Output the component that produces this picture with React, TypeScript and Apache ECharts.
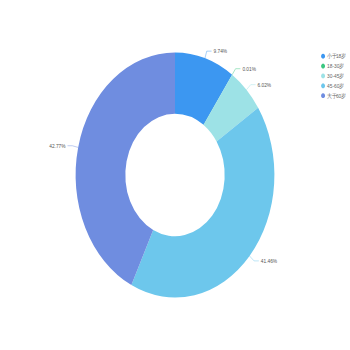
import React, { useEffect, useRef } from "react";
import * as echarts from "echarts";

const categories = ["小于18岁", "18-30岁", "30-45岁", "45-60岁", "大于60岁"];
const values = [9.74, 0.01, 6.02, 41.46, 42.77];
const colors = ["#3c97f1", "#3bc781", "#9de2e6", "#6dc7ec", "#6f8de0"];

const W = 875;
const H = 710;
const SX = 350 / W;
const SY = 350 / H;

export default function App() {
  const ref = useRef<HTMLDivElement>(null);
  useEffect(() => {
    if (!ref.current) return;
    const chart = echarts.init(ref.current, undefined, { renderer: "svg" });
    chart.setOption({
      animation: false,
      backgroundColor: "#ffffff",
      color: colors,
      legend: {
        orient: "vertical",
        right: 3,
        top: 103,
        icon: "circle",
        itemWidth: 10,
        itemHeight: 10,
        itemGap: 8,
        textStyle: { fontSize: 12, color: "#666" },
        data: categories,
      },
      series: [
        {
          type: "pie",
          radius: ["35%", "70%"],
          center: ["50%", "50%"],
          avoidLabelOverlap: true,
          label: {
            show: true,
            position: "outside",
            formatter: "{c}%",
            fontSize: 12,
            color: "#555",
          },
          labelLine: { show: true, length: 15, length2: 12 },
          data: categories.map((name, i) => ({ name, value: values[i] })),
        },
      ],
    });
    return () => chart.dispose();
  }, []);
  return (
    <div
      style={{
        position: "fixed",
        left: 0,
        top: 0,
        width: 350,
        height: 350,
        overflow: "hidden",
        background: "#fff",
      }}
    >
      <div
        ref={ref}
        style={{
          width: W,
          height: H,
          transform: `scale(${SX}, ${SY})`,
          transformOrigin: "0 0",
        }}
      />
    </div>
  );
}
